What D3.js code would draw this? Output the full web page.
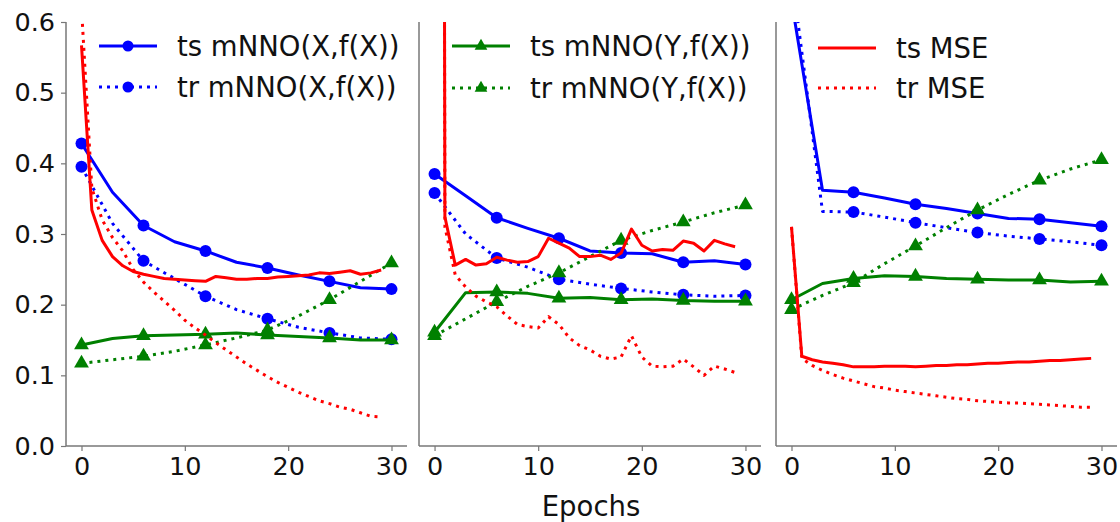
<!DOCTYPE html>
<html>
<head>
<meta charset="utf-8">
<script src="https://cdn.jsdelivr.net/npm/d3@7"></script>
<style>
  body { margin: 0; background: #fff; }
  text { font-family: "DejaVu Sans", Verdana, sans-serif; fill: #111; }
</style>
</head>
<body>
<svg id="chart" width="1120" height="522"></svg>
<script>
// epochs: mNNO curves logged every 3 epochs, MSE every epoch
const epochsCoarse = [0, 3, 6, 9, 12, 15, 18, 21, 24, 27, 30];
const epochsFine = [0, 1, 2, 3, 4, 5, 6, 7, 8, 9, 10, 11, 12, 13, 14, 15, 16, 17, 18, 19, 20, 21, 22, 23, 24, 25, 26, 27, 28, 29];

// panel 1
const p1TsX = [0.428, 0.359, 0.312, 0.289, 0.276, 0.260, 0.252, 0.242, 0.233, 0.224, 0.222];
const p1TrX = [0.395, 0.315, 0.262, 0.237, 0.212, 0.193, 0.180, 0.168, 0.160, 0.153, 0.151];
const p1TsY = [0.143, 0.152, 0.156, 0.157, 0.158, 0.160, 0.157, 0.155, 0.153, 0.150, 0.150];
const p1TrY = [0.117, 0.122, 0.127, 0.134, 0.143, 0.153, 0.164, 0.184, 0.207, 0.233, 0.259];
const p1TsMse = [0.567, 0.334, 0.291, 0.268, 0.255, 0.247, 0.243, 0.240, 0.237, 0.236, 0.235, 0.234, 0.233, 0.240, 0.238, 0.236, 0.236, 0.237, 0.237, 0.239, 0.240, 0.241, 0.242, 0.245, 0.244, 0.246, 0.248, 0.243, 0.245, 0.249];
const p1TrMse = [0.62, 0.365, 0.320, 0.295, 0.276, 0.250, 0.232, 0.218, 0.205, 0.192, 0.178, 0.167, 0.157, 0.146, 0.136, 0.126, 0.116, 0.107, 0.098, 0.090, 0.083, 0.076, 0.070, 0.064, 0.060, 0.055, 0.052, 0.047, 0.042, 0.041];

// panel 2
const p2TsX = [0.385, 0.354, 0.323, 0.308, 0.294, 0.276, 0.273, 0.272, 0.260, 0.262, 0.257];
const p2TrX = [0.358, 0.300, 0.266, 0.253, 0.236, 0.229, 0.223, 0.218, 0.214, 0.212, 0.213];
const p2TsY = [0.161, 0.217, 0.218, 0.216, 0.209, 0.210, 0.207, 0.208, 0.206, 0.205, 0.205];
const p2TrY = [0.156, 0.180, 0.204, 0.226, 0.245, 0.268, 0.291, 0.305, 0.317, 0.330, 0.341];
const p2TsMse = [8.0, 0.324, 0.256, 0.264, 0.256, 0.258, 0.267, 0.263, 0.260, 0.261, 0.268, 0.294, 0.287, 0.280, 0.268, 0.268, 0.270, 0.264, 0.273, 0.307, 0.284, 0.276, 0.278, 0.277, 0.290, 0.287, 0.276, 0.291, 0.286, 0.282];
const p2TrMse = [8.0, 0.310, 0.242, 0.225, 0.212, 0.204, 0.197, 0.184, 0.172, 0.169, 0.167, 0.183, 0.172, 0.153, 0.142, 0.136, 0.127, 0.123, 0.126, 0.156, 0.126, 0.113, 0.112, 0.113, 0.123, 0.112, 0.100, 0.113, 0.109, 0.104];

// panel 3
const p3TsX = [0.63, 0.362, 0.359, 0.351, 0.342, 0.336, 0.329, 0.322, 0.321, 0.316, 0.311];
const p3TrX = [0.67, 0.332, 0.331, 0.324, 0.316, 0.309, 0.302, 0.297, 0.293, 0.289, 0.284];
const p3TsY = [0.207, 0.230, 0.237, 0.241, 0.240, 0.237, 0.236, 0.235, 0.235, 0.232, 0.233];
const p3TrY = [0.193, 0.213, 0.231, 0.258, 0.283, 0.309, 0.334, 0.356, 0.376, 0.392, 0.405];
const p3TsMse = [0.310, 0.127, 0.122, 0.119, 0.117, 0.115, 0.112, 0.112, 0.112, 0.113, 0.113, 0.113, 0.112, 0.113, 0.114, 0.114, 0.115, 0.115, 0.116, 0.117, 0.117, 0.118, 0.119, 0.119, 0.120, 0.121, 0.121, 0.122, 0.123, 0.124];
const p3TrMse = [0.310, 0.124, 0.114, 0.107, 0.101, 0.096, 0.092, 0.088, 0.084, 0.082, 0.079, 0.077, 0.075, 0.073, 0.071, 0.069, 0.067, 0.066, 0.064, 0.063, 0.062, 0.061, 0.061, 0.060, 0.059, 0.058, 0.057, 0.056, 0.055, 0.055];

const yTicks = [0, 0.1, 0.2, 0.3, 0.4, 0.5, 0.6];
const xTicks = [0, 10, 20, 30];
const xLabel = "Epochs";
const legendNames = [
  ["ts mNNO(X,f(X))", "tr mNNO(X,f(X))"],
  ["ts mNNO(Y,f(X))", "tr mNNO(Y,f(X))"],
  ["ts MSE", "tr MSE"]
];

const blue = "#0000ff", green = "#008000", red = "#ff0000", spine = "#777";
const dotted = "3,5";

const panelData = [
  [p1TsX, p1TrX, p1TsY, p1TrY, p1TsMse, p1TrMse],
  [p2TsX, p2TrX, p2TsY, p2TrY, p2TsMse, p2TrMse],
  [p3TsX, p3TrX, p3TsY, p3TrY, p3TsMse, p3TrMse]
];

// layout of the three axes boxes and where each legend sits
const boxes = [
  {left: 66, right: 407, legendX: 99, legendY: [46, 87], legend: "blue"},
  {left: 419, right: 761, legendX: 452, legendY: [46, 88], legend: "green"},
  {left: 776, right: 1117, legendX: 818, legendY: [48, 88], legend: "red"}
];
const plotTop = 22, plotBottom = 446;

const svg = d3.select("#chart");

const y = d3.scaleLinear().domain([0, 0.6]).range([plotBottom, plotTop]);

const styleFor = (i) => ({
  color: [blue, blue, green, green, red, red][i],
  dash: i % 2 === 1 ? dotted : null,
  marker: ["circle", "circle", "triangle", "triangle", null, null][i],
  epochs: i < 4 ? epochsCoarse : epochsFine
});

const triangle = d3.symbol().type(d3.symbolTriangle);

boxes.forEach((b, pi) => {
  const x = d3.scaleLinear().domain([-1.5, 31.5]).range([b.left, b.right]);
  const g = svg.append("g");

  const clipId = "clip" + pi;
  svg.append("clipPath").attr("id", clipId)
    .append("rect")
    .attr("x", b.left).attr("y", plotTop)
    .attr("width", b.right - b.left).attr("height", plotBottom - plotTop);

  // spines
  g.append("line").attr("x1", b.left).attr("x2", b.left).attr("y1", plotTop).attr("y2", plotBottom)
    .attr("stroke", spine).attr("stroke-width", 1.5);
  g.append("line").attr("x1", b.left).attr("x2", b.right).attr("y1", plotBottom).attr("y2", plotBottom)
    .attr("stroke", spine).attr("stroke-width", 1.5);

  // x axis
  const xAxis = g.append("g").attr("transform", `translate(0,${plotBottom})`)
    .call(d3.axisBottom(x).tickValues(xTicks).tickSize(5).tickPadding(6).tickFormat(d3.format("d")));
  xAxis.select(".domain").remove();
  xAxis.selectAll(".tick line").attr("stroke", spine).attr("stroke-width", 1.2);
  xAxis.selectAll("text").attr("font-size", 25.5).attr("fill", "#111")
    .attr("font-family", "DejaVu Sans, Verdana, sans-serif");

  if (pi === 0) {
    const yAxis = g.append("g").attr("transform", `translate(${b.left},0)`)
      .call(d3.axisLeft(y).tickValues(yTicks).tickSize(5).tickPadding(6).tickFormat(d3.format(".1f")));
    yAxis.select(".domain").remove();
    yAxis.selectAll(".tick line").attr("stroke", spine).attr("stroke-width", 1.2);
    yAxis.selectAll("text").attr("font-size", 25.5).attr("fill", "#111")
      .attr("font-family", "DejaVu Sans, Verdana, sans-serif");
  }

  const plot = g.append("g").attr("clip-path", `url(#${clipId})`);
  panelData[pi].forEach((vals, si) => {
    const st = styleFor(si);
    const pts = st.epochs.map((e, k) => [e, vals[k]]);
    const line = d3.line().x(d => x(d[0])).y(d => y(d[1]));
    plot.append("path").attr("d", line(pts))
      .attr("fill", "none").attr("stroke", st.color).attr("stroke-width", 3)
      .attr("stroke-dasharray", st.dash).attr("stroke-linejoin", "round");
    if (st.marker) {
      const marked = pts.filter(d => d[0] % 6 === 0);
      if (st.marker === "circle") {
        plot.selectAll(null).data(marked).enter().append("circle")
          .attr("cx", d => x(d[0])).attr("cy", d => y(d[1])).attr("r", 6)
          .attr("fill", st.color);
      } else {
        plot.selectAll(null).data(marked).enter().append("path")
          .attr("d", triangle.size(95))
          .attr("transform", d => `translate(${x(d[0])},${y(d[1])})`)
          .attr("fill", st.color);
      }
    }
  });

  // legend
  const legendColor = {blue: 0, green: 2, red: 4}[b.legend];
  [0, 1].forEach(r => {
    const st = styleFor(legendColor + r);
    const ly = b.legendY[r];
    g.append("line").attr("x1", b.legendX).attr("x2", b.legendX + 58)
      .attr("y1", ly).attr("y2", ly)
      .attr("stroke", st.color).attr("stroke-width", 3)
      .attr("stroke-dasharray", st.dash);
    if (st.marker === "circle") {
      g.append("circle").attr("cx", b.legendX + 29).attr("cy", ly).attr("r", 5.5).attr("fill", st.color);
    } else if (st.marker === "triangle") {
      g.append("path").attr("d", triangle.size(70))
        .attr("transform", `translate(${b.legendX + 29},${ly})`).attr("fill", st.color);
    }
    g.append("text").attr("x", b.legendX + 78).attr("y", ly)
      .attr("dy", "0.36em").attr("font-size", 27.5)
      .text(legendNames[pi][r]);
  });
});

svg.append("text").attr("x", 591).attr("y", 516)
  .attr("text-anchor", "middle").attr("font-size", 27.5)
  .text(xLabel);
</script>
</body>
</html>
